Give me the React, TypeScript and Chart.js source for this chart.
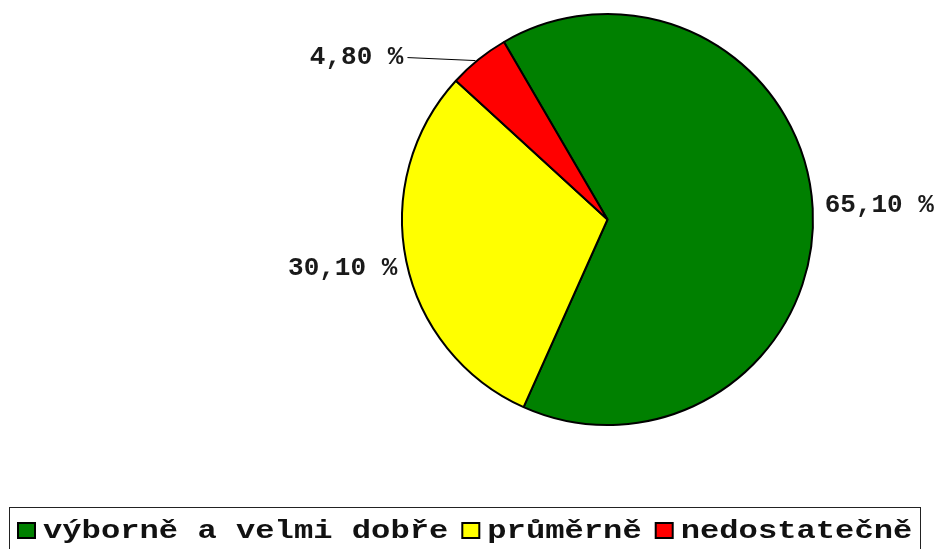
import React, { useEffect, useRef } from 'react';
import { Chart, registerables } from 'chart.js';

Chart.register(...registerables);

const categories = ['výborně a velmi dobře', 'průměrně', 'nedostatečně'];
const values = [65.1, 30.1, 4.8];
const colors = ['#008000', '#FFFF00', '#FF0000'];

const FONT = '"Courier New", "Liberation Mono", monospace';

// label placement relative to the slice's outer mid-point (style only)
const labelStyle = [
  { dx: 12, dy: 4, align: 'left', leader: false },
  { dx: -9, dy: 14, align: 'right', leader: false },
  { dx: -75, dy: 4, align: 'right', leader: true },
];

const fmt = (v: number) => v.toFixed(2).replace('.', ',') + ' %';

const labelPlugin = {
  id: 'sliceLabels',
  afterDatasetsDraw(chart: any) {
    const ctx = chart.ctx as CanvasRenderingContext2D;
    const meta = chart.getDatasetMeta(0);
    ctx.save();
    ctx.font = `bold 26px ${FONT}`;
    ctx.fillStyle = '#1a1a1a';
    ctx.textBaseline = 'alphabetic';
    meta.data.forEach((arc: any, i: number) => {
      const p = arc.getProps(['x', 'y', 'startAngle', 'endAngle', 'outerRadius'], true);
      const mid = (p.startAngle + p.endAngle) / 2;
      const px = p.x + Math.cos(mid) * p.outerRadius;
      const py = p.y + Math.sin(mid) * p.outerRadius;
      const st = labelStyle[i];
      const tx = px + st.dx;
      const ty = py + st.dy;
      if (st.leader) {
        ctx.save();
        ctx.strokeStyle = '#000';
        ctx.lineWidth = 1;
        ctx.beginPath();
        ctx.moveTo(px - 3, py + 1);
        ctx.lineTo(tx + 4, ty - 6);
        ctx.stroke();
        ctx.restore();
      }
      ctx.textAlign = st.align as CanvasTextAlign;
      ctx.fillText(fmt(values[i]), tx, ty);
    });
    ctx.restore();
  },
};

const legendPlugin = {
  id: 'boxLegend',
  afterDraw(chart: any) {
    const ctx = chart.ctx as CanvasRenderingContext2D;
    ctx.save();
    ctx.strokeStyle = '#222';
    ctx.lineWidth = 1;
    ctx.strokeRect(9.5, 507.5, 911, 80);
    ctx.font = `bold 26px ${FONT}`;
    ctx.textBaseline = 'alphabetic';
    ctx.textAlign = 'left';
    const sx = 1.237;
    let x = 18;
    const base = 538;
    categories.forEach((c, i) => {
      ctx.fillStyle = colors[i];
      ctx.fillRect(x, base - 15, 17, 15);
      ctx.strokeStyle = '#000';
      ctx.lineWidth = 2;
      ctx.strokeRect(x, base - 15, 17, 15);
      const tx = x + 25;
      ctx.fillStyle = '#111';
      ctx.save();
      ctx.translate(tx, base);
      ctx.scale(sx, 1);
      ctx.fillText(c, 0, 0);
      ctx.restore();
      x = tx + ctx.measureText(c).width * sx + 14;
    });
    ctx.restore();
  },
};

export default function App() {
  const ref = useRef<HTMLCanvasElement>(null);
  useEffect(() => {
    if (!ref.current) return;
    const chart = new Chart(ref.current, {
      type: 'pie',
      data: {
        labels: categories,
        datasets: [
          {
            data: values,
            backgroundColor: colors,
            borderColor: '#000',
            borderWidth: 2,
          },
        ],
      },
      options: {
        responsive: false,
        animation: false,
        rotation: -30.26,
        layout: { padding: { top: 13, bottom: 123, left: 401, right: 123 } },
        plugins: {
          legend: { display: false },
          tooltip: { enabled: false },
        },
      },
      plugins: [labelPlugin, legendPlugin],
    });
    return () => chart.destroy();
  }, []);
  return (
    <div style={{ position: 'absolute', left: 0, top: 0, width: 937, height: 549, background: '#fff' }}>
      <canvas ref={ref} width={937} height={549} />
    </div>
  );
}
